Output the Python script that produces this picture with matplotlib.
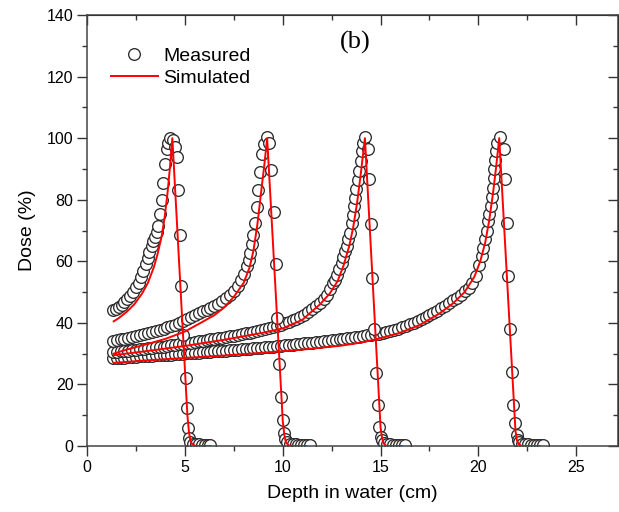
import matplotlib
matplotlib.use("Agg")
import matplotlib.pyplot as plt
from matplotlib.ticker import MultipleLocator

plt.rcParams['font.family'] = ['Liberation Sans', 'DejaVu Sans']

# measured depth-dose points (cm, %)
m1_x = [1.30, 1.45, 1.60, 1.75, 1.90, 2.05, 2.20, 2.35, 2.50, 2.62, 2.75, 2.87, 2.98, 3.08, 3.18,
        3.29, 3.38, 3.46, 3.55, 3.63, 3.72, 3.80, 3.89, 3.97, 4.06, 4.15, 4.25, 4.38, 4.50, 4.57,
        4.65, 4.72, 4.80, 4.91, 5.05, 5.12, 5.16, 5.20, 5.26, 5.40, 5.55, 5.70, 5.85, 6.00, 6.15, 6.30]
m1_y = [44.2, 44.6, 45.2, 45.9, 46.7, 47.7, 48.8, 50.0, 51.5, 53.0, 54.8, 57.0, 59.0, 61.0, 63.0,
        65.0, 66.5, 67.8, 69.5, 71.4, 75.2, 80.0, 85.5, 91.5, 96.5, 98.5, 100.0, 99.5, 97.0, 94.0,
        83.3, 68.7, 52.0, 36.0, 22.0, 12.3, 6.0, 2.5, 1.2, 0.8, 0.6, 0.5, 0.4, 0.3, 0.3, 0.2]

m2_x = [1.3, 1.5, 1.7, 1.9, 2.1, 2.3, 2.5, 2.7, 2.9, 3.1, 3.3, 3.5, 3.7, 3.9, 4.1, 4.3, 4.5, 4.7,
        4.9, 5.1, 5.3, 5.5, 5.7, 5.9, 6.1, 6.3, 6.5, 6.7, 6.9, 7.1, 7.3, 7.5, 7.7,
        7.85, 8.0, 8.15, 8.25, 8.32, 8.41, 8.5, 8.58, 8.66, 8.75, 8.83, 8.92, 9.05, 9.18,
        9.3, 9.4, 9.55, 9.65, 9.72, 9.8, 9.93, 10.0, 10.05, 10.1, 10.2, 10.35, 10.5, 10.65,
        10.8, 10.95, 11.1, 11.25, 11.4]
m2_y = [34.0, 34.3, 34.6, 34.9, 35.2, 35.5, 35.8, 36.1, 36.4, 36.7, 37.0, 37.3, 37.7, 38.1, 38.5,
        38.9, 39.4, 39.9, 40.5, 41.1, 41.8, 42.5, 43.1, 43.7, 44.2, 44.8, 45.5, 46.2, 47.0, 48.0,
        49.0, 50.3, 52.0,
        53.8, 56.0, 58.4, 60.5, 62.8, 65.5, 68.5, 72.5, 77.5, 83.0, 89.0, 94.7, 98.0, 100.3,
        98.5, 89.5, 76.0, 59.0, 41.6, 26.7, 16.0, 8.5, 4.2, 2.2, 1.2, 0.8, 0.6, 0.5,
        0.4, 0.3, 0.3, 0.2, 0.2]

m3_x = [1.3, 1.5, 1.7, 1.9, 2.1, 2.3, 2.5, 2.7, 2.9, 3.1, 3.3, 3.5, 3.7, 3.9, 4.1, 4.3, 4.5, 4.7,
        4.9, 5.1, 5.3, 5.5, 5.7, 5.9, 6.1, 6.3, 6.5, 6.7, 6.9, 7.1, 7.3, 7.5, 7.7, 7.9, 8.1, 8.3,
        8.5, 8.7, 8.9, 9.1, 9.3, 9.5, 9.7, 9.9, 10.1, 10.3, 10.5, 10.7, 10.9, 11.1, 11.3, 11.5,
        11.7, 11.9,
        12.1, 12.25, 12.42, 12.55, 12.66, 12.76, 12.88, 13.01, 13.1, 13.19, 13.27, 13.36, 13.44,
        13.52, 13.58, 13.64, 13.7, 13.75, 13.84, 13.92, 13.98, 14.04, 14.12, 14.2,
        14.35, 14.43, 14.5, 14.58, 14.64, 14.77, 14.89, 14.94, 15.0, 15.08, 15.2, 15.35, 15.5,
        15.65, 15.8, 15.95, 16.1, 16.25]
m3_y = [30.5, 30.6, 30.7, 30.9, 31.0, 31.1, 31.2, 31.4, 31.5, 31.7, 31.8, 32.0, 32.2, 32.3, 32.5,
        32.7, 32.9, 33.0, 33.2, 33.4, 33.6, 33.8, 34.0, 34.2, 34.4, 34.6, 34.8, 35.0, 35.2, 35.4,
        35.6, 35.8, 36.1, 36.3, 36.6, 36.8, 37.1, 37.4, 37.7, 38.0, 38.3, 38.7, 39.0, 39.4, 39.8,
        40.3, 40.8, 41.4, 42.0, 42.7, 43.5, 44.4, 45.4, 46.5,
        47.8, 49.0, 51.0, 52.8, 54.0, 55.5, 57.5, 59.5, 61.5, 63.2, 65.0, 67.2, 69.3,
        72.5, 75.0, 78.0, 80.5, 83.4, 86.5, 89.3, 92.5, 95.8, 98.5, 100.5,
        96.4, 86.6, 72.0, 54.6, 38.0, 23.6, 13.3, 6.3, 3.0, 1.8, 1.0, 0.7, 0.5,
        0.4, 0.4, 0.3, 0.2, 0.2]

m4_x = [1.3, 1.5, 1.7, 1.9, 2.1, 2.3, 2.5, 2.7, 2.9, 3.1, 3.3, 3.5, 3.7, 3.9, 4.1, 4.3, 4.5, 4.7,
        4.9, 5.1, 5.3, 5.5, 5.7, 5.9, 6.1, 6.3, 6.5, 6.7, 6.9, 7.1, 7.3, 7.5, 7.7, 7.9, 8.1, 8.3,
        8.5, 8.7, 8.9, 9.1, 9.3, 9.5, 9.7, 9.9, 10.1, 10.3, 10.5, 10.7, 10.9, 11.1, 11.3, 11.5,
        11.7, 11.9, 12.1, 12.3, 12.5, 12.7, 12.9, 13.1, 13.3, 13.5, 13.7, 13.9, 14.1, 14.3, 14.5,
        14.7, 14.9, 15.1, 15.3, 15.5, 15.7, 15.9, 16.1, 16.3, 16.5, 16.7, 16.9, 17.1, 17.3, 17.5,
        17.7, 17.9, 18.1, 18.3, 18.5, 18.7, 18.9, 19.1, 19.3, 19.5, 19.7, 19.9,
        20.05, 20.17, 20.26, 20.34, 20.43, 20.51, 20.57, 20.63, 20.69, 20.74, 20.78, 20.82,
        20.86, 20.9, 20.98, 21.1,
        21.3, 21.38, 21.45, 21.53, 21.62, 21.7, 21.79, 21.88, 21.96, 22.02, 22.1, 22.25, 22.4,
        22.55, 22.7, 22.85, 23.0, 23.15, 23.3]
m4_y = [28.5, 28.6, 28.7, 28.7, 28.8, 28.9, 29.0, 29.1, 29.2, 29.2, 29.3, 29.4, 29.5, 29.6, 29.6,
        29.7, 29.8, 29.9, 30.0, 30.1, 30.1, 30.2, 30.3, 30.4, 30.5, 30.6, 30.7, 30.8, 30.9, 31.0,
        31.1, 31.2, 31.3, 31.4, 31.5, 31.6, 31.7, 31.8, 31.9, 32.0, 32.2, 32.3, 32.4, 32.5, 32.7,
        32.8, 32.9, 33.1, 33.2, 33.4, 33.5, 33.6, 33.8, 33.9, 34.1, 34.2, 34.4, 34.5, 34.7, 34.9,
        35.0, 35.2, 35.4, 35.5, 35.7, 35.9, 36.1, 36.3, 36.5, 36.7, 37.0, 37.4, 37.7, 38.1, 38.5,
        39.0, 39.6, 40.1, 40.7, 41.3, 41.9, 42.6, 43.3, 44.0, 44.8, 45.6, 46.4, 47.3, 48.2, 49.2,
        50.2, 51.3, 53.0, 55.2,
        58.8, 61.6, 64.3, 67.1, 70.0, 73.0, 75.5, 77.9, 81.0, 83.9, 87.0, 89.9,
        93.0, 95.8, 98.5, 100.5,
        96.4, 86.6, 72.5, 55.3, 38.0, 23.9, 13.3, 7.4, 3.6, 2.0, 1.2, 0.8, 0.6,
        0.5, 0.4, 0.4, 0.3, 0.3, 0.2]

# simulated curves
s1_x = [1.35, 1.6, 2.0, 2.4, 2.8, 3.1, 3.4, 3.6, 3.8, 3.95, 4.1, 4.22, 4.35, 5.12, 5.2, 5.28, 5.4, 5.6, 6.3]
s1_y = [40.5, 41.5, 43.5, 46.0, 49.5, 53.0, 58.0, 62.5, 68.0, 74.0, 82.0, 90.0, 100.0, 10.0, 4.5, 1.5, 0.3, 0.0, 0.0]
s2_x = [1.35, 2.0, 3.0, 4.0, 5.0, 5.8, 6.5, 7.0, 7.5, 8.0, 8.3, 8.5, 8.7, 8.9, 9.05, 9.2,
        10.0, 10.08, 10.16, 10.3, 10.5, 11.2]
s2_y = [30.0, 31.3, 33.0, 34.8, 37.2, 40.0, 42.5, 45.0, 48.5, 53.0, 58.0, 63.5, 72.0, 83.0, 91.0, 100.0,
        8.0, 3.5, 1.2, 0.2, 0.0, 0.0]
s3_x = [1.35, 3.0, 5.0, 7.0, 9.0, 10.0, 11.0, 11.9, 12.4, 12.8, 13.1, 13.4, 13.6, 13.8, 14.0, 14.2,
        15.0, 15.08, 15.16, 15.3, 16.1]
s3_y = [29.5, 30.8, 32.5, 34.5, 36.8, 38.2, 41.0, 46.0, 49.5, 53.5, 58.5, 65.0, 71.0, 79.0, 89.0, 100.0,
        6.0, 2.5, 0.8, 0.0, 0.0]
s4_x = [1.35, 3.0, 5.0, 7.0, 9.0, 11.0, 13.0, 14.0, 15.0, 16.0, 17.0, 18.0, 18.7, 19.3, 19.8, 20.1,
        20.35, 20.55, 20.75, 20.9, 21.07, 21.9, 21.97, 22.05, 22.2, 23.15]
s4_y = [27.0, 27.8, 28.6, 29.4, 30.3, 31.3, 32.6, 33.6, 35.0, 36.8, 39.3, 43.0, 46.3, 50.0, 55.0, 60.0,
        66.0, 73.0, 82.0, 90.0, 100.0, 5.0, 2.0, 0.7, 0.0, 0.0]

fig = plt.figure(figsize=(6.19, 5.12), dpi=100)
ax = fig.add_axes([87.3 / 619, 66 / 512, 530.8 / 619, 431 / 512])

# last curve first so the shallower falloff circles sit on top of the deeper bands
for mx, my in [(m4_x, m4_y), (m3_x, m3_y), (m2_x, m2_y), (m1_x, m1_y)]:
    meas, = ax.plot(mx, my, 'o', ms=8.4, mfc='white', mec='#2b2b2b', mew=0.95, zorder=2)
for sx, sy in [(s1_x, s1_y), (s2_x, s2_y), (s3_x, s3_y), (s4_x, s4_y)]:
    sim, = ax.plot(sx, sy, '-', color='#ff0000', lw=1.4, zorder=3)

ax.set_xlim(0, 27.15)
ax.set_ylim(0, 140)
ax.xaxis.set_major_locator(MultipleLocator(5))
ax.xaxis.set_minor_locator(MultipleLocator(2.5))
ax.yaxis.set_major_locator(MultipleLocator(20))
ax.yaxis.set_minor_locator(MultipleLocator(10))
ax.tick_params(which='both', direction='out', labelsize=11.5, color='#333333', width=1, pad=3)
ax.tick_params(which='major', length=7)
ax.tick_params(which='minor', length=3.5)
for sp in ax.spines.values():
    sp.set_color('#444444')
    sp.set_linewidth(1.1)

top = ax.secondary_xaxis('top')
top.xaxis.set_major_locator(MultipleLocator(5))
top.xaxis.set_minor_locator(MultipleLocator(2.5))
top.tick_params(which='both', direction='in', labeltop=False, color='#333333', width=1)
top.tick_params(which='major', length=7)
top.tick_params(which='minor', length=3.5)
right = ax.secondary_yaxis('right')
right.yaxis.set_major_locator(MultipleLocator(20))
right.yaxis.set_minor_locator(MultipleLocator(10))
right.tick_params(which='both', direction='in', labelright=False, color='#333333', width=1)
right.tick_params(which='major', length=7)
right.tick_params(which='minor', length=3.5)

ax.set_xlabel("Depth in water (cm)", fontsize=14, labelpad=7)
ax.set_ylabel("Dose (%)", fontsize=14, labelpad=8)
ax.text(13.7, 131, "(b)", fontsize=19, family=['Liberation Serif', 'DejaVu Serif'],
        ha='center', va='center')

ax.legend([meas, sim], ["Measured", "Simulated"], loc='upper left',
          bbox_to_anchor=(111 / 619, 1 - 47 / 512), bbox_transform=fig.transFigure,
          frameon=False, fontsize=14, handlelength=2.4, handletextpad=0.3,
          labelspacing=0.25, borderpad=0, borderaxespad=0)

fig.savefig("out.png", dpi=100)
